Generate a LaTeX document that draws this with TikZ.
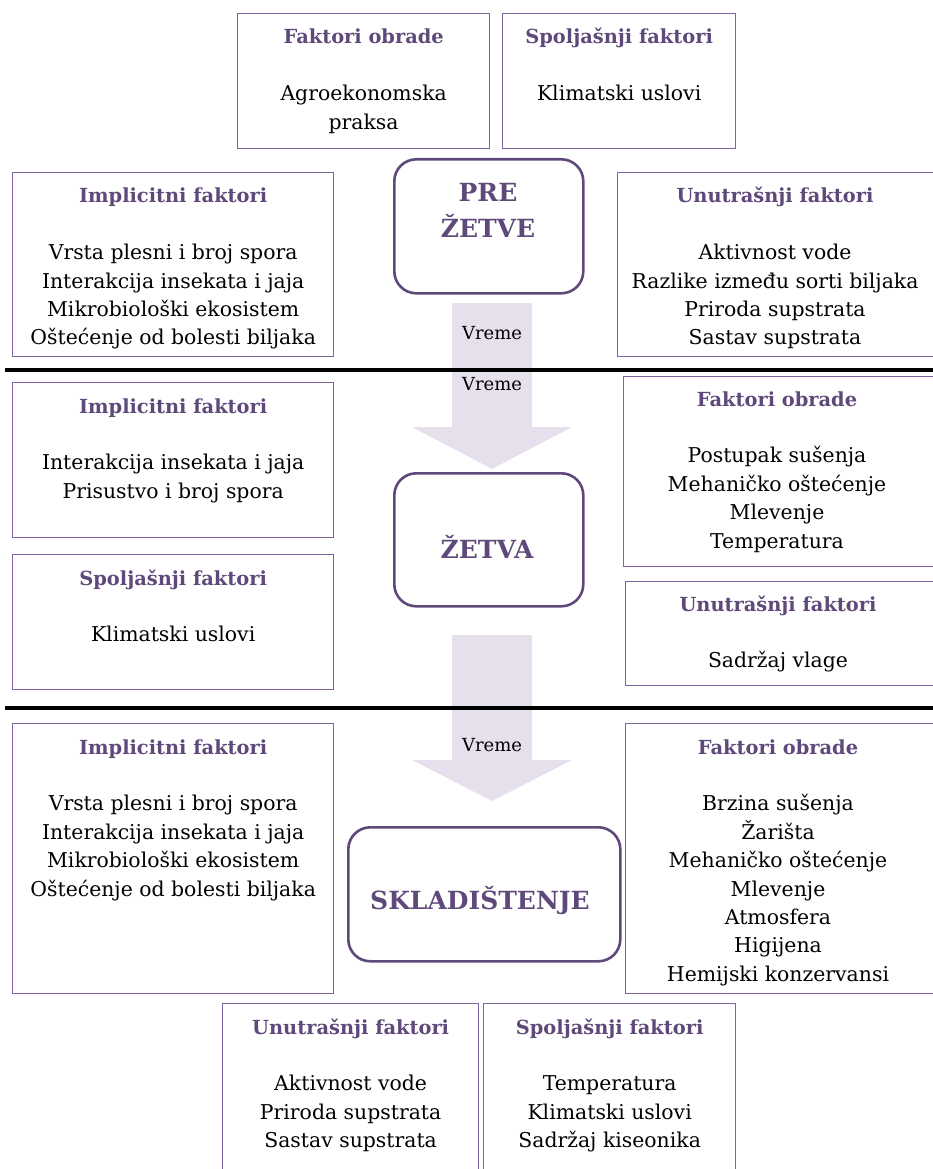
\documentclass[tikz,border=0pt]{standalone}
\usepackage{fontspec}
\setmainfont{DejaVu Serif}
\definecolor{boxc}{RGB}{128,100,162}
\definecolor{titlec}{RGB}{95,73,122}
\definecolor{stagec}{RGB}{95,73,122}
\definecolor{arrowc}{RGB}{229,224,236}
\newcommand\ttl[1]{{\bfseries\color{titlec}\fontsize{19.4}{28.4}\selectfont #1}}
\newcommand\fblock[1]{\begin{tabular}[t]{@{}c@{}}#1\end{tabular}}
\tikzset{
  fbox/.style={draw=boxc, line width=1.3pt, fill=white, inner sep=0pt, anchor=north west},
  stagebox/.style={draw=stagec, line width=2.6pt, rounded corners=22pt, inner sep=0pt, anchor=north west},
  ftext/.style={inner sep=0pt, anchor=base, font=\fontsize{20.4}{28.4}\selectfont, text=black},
  stagetext/.style={font=\bfseries\fontsize{25}{36}\selectfont, text=titlec, align=center, inner sep=0pt},
  vreme/.style={font=\fontsize{18}{20}\selectfont, inner sep=0pt, text=black},
  timearrow/.style={fill=arrowc, draw=none},
  divider/.style={line width=4pt, draw=black}
}
\begin{document}
\begin{tikzpicture}[x=1pt, y=-1pt]
\useasboundingbox (0,0) rectangle (932,1169);
% time arrows
\fill[timearrow] (452,303) -- (532,303) -- (532,427) -- (572,427) -- (492,469) -- (412,427) -- (452,427) -- cycle;
\fill[timearrow] (452,635) -- (532,635) -- (532,760) -- (572,760) -- (492,801) -- (412,760) -- (452,760) -- cycle;
% dividers
\coordinate (d1l) at (5,370); \coordinate (d1r) at (935,370);
\coordinate (d2l) at (5,708); \coordinate (d2r) at (935,708);
\draw[divider] (d1l) -- (d1r);
\draw[divider] (d2l) -- (d2r);
% Vreme labels
\node[vreme] (v1) at (492,333) {Vreme};
\node[vreme] (v2) at (492,384) {Vreme};
\node[vreme] (v3) at (492,745) {Vreme};
% boxes
\node[fbox, minimum width=252pt, minimum height=135pt] (a) at (237,13) {};
\node[ftext] (at) at ([yshift=-31pt]a.north) {\fblock{\ttl{Faktori obrade}\\[28.4pt]Agroekonomska\\praksa}};
\node[fbox, minimum width=233pt, minimum height=135pt] (b) at (502,13) {};
\node[ftext] (bt) at ([yshift=-31pt]b.north) {\fblock{\ttl{Spoljašnji faktori}\\[28.4pt]Klimatski uslovi}};
\node[fbox, minimum width=321pt, minimum height=184pt] (c) at (12,172) {};
\node[ftext] (ct) at ([yshift=-31pt]c.north) {\fblock{\ttl{Implicitni faktori}\\[28.4pt]Vrsta plesni i broj spora\\Interakcija insekata i jaja\\Mikrobiološki ekosistem\\Oštećenje od bolesti biljaka}};
\node[fbox, minimum width=317pt, minimum height=184pt] (d) at (617,172) {};
\node[ftext] (dt) at (775,203) {\fblock{\ttl{Unutrašnji faktori}\\[28.4pt]Aktivnost vode\\Razlike između sorti biljaka\\Priroda supstrata\\Sastav supstrata}};
\node[fbox, minimum width=321pt, minimum height=155pt] (e) at (12,382) {};
\node[ftext] (et) at ([yshift=-31pt]e.north) {\fblock{\ttl{Implicitni faktori}\\[28.4pt]Interakcija insekata i jaja\\Prisustvo i broj spora}};
\node[fbox, minimum width=311pt, minimum height=190pt] (f) at (623,376) {};
\node[ftext] (ft) at (777,406) {\fblock{\ttl{Faktori obrade}\\[28.4pt]Postupak sušenja\\Mehaničko oštećenje\\Mlevenje\\Temperatura}};
\node[fbox, minimum width=321pt, minimum height=135pt] (g) at (12,554) {};
\node[ftext] (gt) at ([yshift=-31pt]g.north) {\fblock{\ttl{Spoljašnji faktori}\\[28.4pt]Klimatski uslovi}};
\node[fbox, minimum width=309pt, minimum height=104pt] (h) at (625,581) {};
\node[ftext] (ht) at (778,611) {\fblock{\ttl{Unutrašnji faktori}\\[28.4pt]Sadržaj vlage}};
\node[fbox, minimum width=321pt, minimum height=270pt] (i) at (12,723) {};
\node[ftext] (it) at ([yshift=-31pt]i.north) {\fblock{\ttl{Implicitni faktori}\\[28.4pt]Vrsta plesni i broj spora\\Interakcija insekata i jaja\\Mikrobiološki ekosistem\\Oštećenje od bolesti biljaka}};
\node[fbox, minimum width=309pt, minimum height=270pt] (j) at (625,723) {};
\node[ftext] (jt) at (778,754) {\fblock{\ttl{Faktori obrade}\\[28.4pt]Brzina sušenja\\Žarišta\\Mehaničko oštećenje\\Mlevenje\\Atmosfera\\Higijena\\Hemijski konzervansi}};
\node[fbox, minimum width=256pt, minimum height=175pt] (k) at (222,1003) {};
\node[ftext] (kt) at ([yshift=-31pt]k.north) {\fblock{\ttl{Unutrašnji faktori}\\[28.4pt]Aktivnost vode\\Priroda supstrata\\Sastav supstrata}};
\node[fbox, minimum width=252pt, minimum height=175pt] (l) at (483,1003) {};
\node[ftext] (lt) at ([yshift=-31pt]l.north) {\fblock{\ttl{Spoljašnji faktori}\\[28.4pt]Temperatura\\Klimatski uslovi\\Sadržaj kiseonika}};
% stage boxes
\node[stagebox, minimum width=189pt, minimum height=134pt] (s1) at (393,158) {};
\node[stagetext] (s1t) at (488,210) {PRE\\ŽETVE};
\node[stagebox, minimum width=189pt, minimum height=133pt] (s2) at (393,472) {};
\node[stagetext] (s2t) at (487,547) {ŽETVA};
\node[stagebox, minimum width=272pt, minimum height=134pt] (s3) at (347,826) {};
\node[stagetext] (s3t) at (480,900) {SKLADIŠTENJE};
\end{tikzpicture}
\end{document}
